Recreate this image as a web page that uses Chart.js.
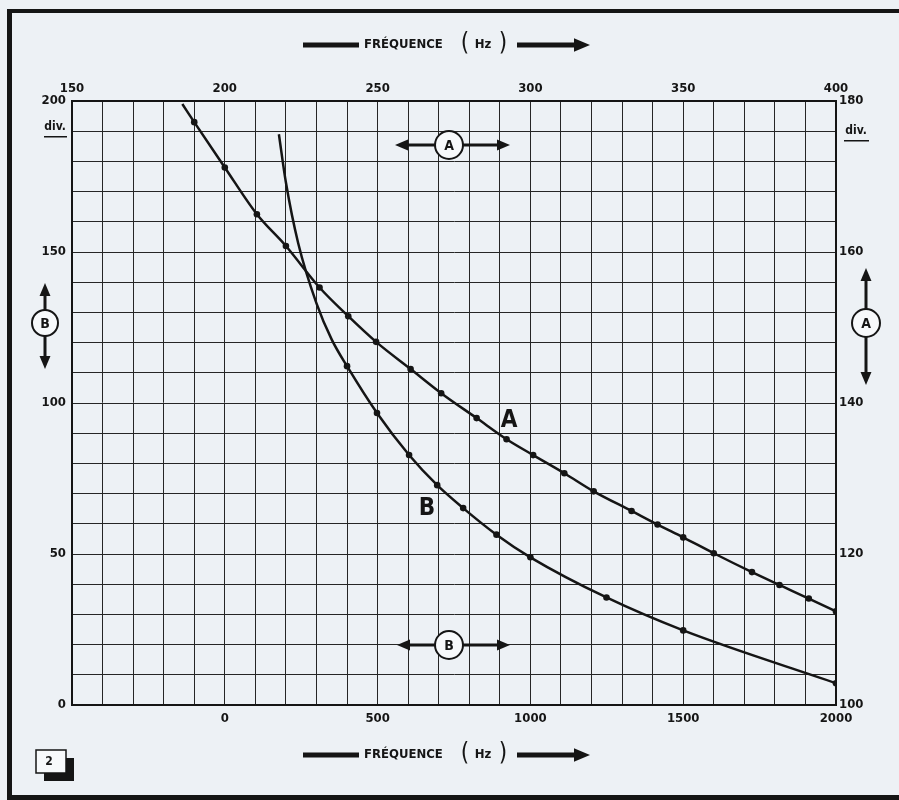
<!DOCTYPE html>
<html>
<head>
<meta charset="utf-8">
<script src="https://cdn.jsdelivr.net/npm/chart.js@4"></script>
<style>
  html, body { margin: 0; padding: 0; background: #edf1f5; }
  #wrap { width: 899px; height: 800px; }
</style>
</head>
<body>
<div id="wrap"><canvas id="freqChart" width="899" height="800"></canvas></div>
<script>
// Curve A (right scale, div.) - first point is where the drawn line starts, no dot
const freqA = [-139, -100, 0, 105, 200, 310, 404, 495, 608, 708, 824, 922, 1009, 1111, 1207, 1331, 1416, 1500, 1600, 1725, 1815, 1911, 2000];
const divA = [179.6, 177.2, 171.2, 165.0, 160.8, 155.3, 151.5, 148.1, 144.5, 141.3, 138.0, 135.2, 133.1, 130.7, 128.3, 125.7, 123.9, 122.2, 120.1, 117.6, 115.9, 114.1, 112.4];

// Curve B (left scale, div.) - dots only from 400 on
const freqB = [177, 200, 240, 300, 350, 400, 498, 603, 695, 780, 889, 1000, 1249, 1500, 2000];
const divB = [189, 173, 153, 133, 121, 112.2, 96.7, 82.8, 72.8, 65.2, 56.4, 48.9, 35.6, 24.7, 7.2];

// axis ranges and labels
const bottomRange = [-500, 2000];
const topRange = [150, 400];
const leftRange = [0, 200];
const rightRange = [100, 180];
const titleText = 'FRÉQUENCE';
const unitText = 'Hz';

const FONT = '"DejaVu Sans Condensed", "Liberation Sans Narrow", "DejaVu Sans", sans-serif';
const INK = '#151515';

function toPoints(xs, ys) {
    return xs.map((x, i) => ({ x: x, y: ys[i] }));
}

function arrowLine(ctx, x1, y1, x2, y2, w, head) {
    const a = Math.atan2(y2 - y1, x2 - x1);
    const bx = x2 - head * Math.cos(a), by = y2 - head * Math.sin(a);
    const hw = head * 0.42;
    ctx.lineWidth = w;
    ctx.beginPath();
    ctx.moveTo(x1, y1);
    ctx.lineTo(bx, by);
    ctx.stroke();
    ctx.beginPath();
    ctx.moveTo(x2, y2);
    ctx.lineTo(bx + hw * Math.sin(a), by - hw * Math.cos(a));
    ctx.lineTo(bx - hw * Math.sin(a), by + hw * Math.cos(a));
    ctx.closePath();
    ctx.fill();
}

function circleTag(ctx, x, y, r, label) {
    ctx.beginPath();
    ctx.arc(x, y, r, 0, Math.PI * 2);
    ctx.fillStyle = '#f7f9fb';
    ctx.fill();
    ctx.lineWidth = 2;
    ctx.strokeStyle = INK;
    ctx.stroke();
    ctx.fillStyle = INK;
    ctx.font = 'bold 14px ' + FONT;
    ctx.textAlign = 'center';
    ctx.textBaseline = 'middle';
    ctx.fillText(label, x, y + 1);
}

function freqTitle(ctx, y) {
    ctx.fillStyle = INK;
    ctx.strokeStyle = INK;
    ctx.fillRect(303, y - 2.5, 56, 5);
    ctx.font = 'bold 13px ' + FONT;
    ctx.textAlign = 'left';
    ctx.textBaseline = 'middle';
    ctx.fillText(titleText, 364, y, 80);
    ctx.font = '24px ' + FONT;
    ctx.textAlign = 'center';
    ctx.fillText('(', 465, y - 1);
    ctx.fillText(')', 503, y - 1);
    ctx.font = 'bold 13px ' + FONT;
    ctx.fillText(unitText, 483, y);
    arrowLine(ctx, 517, y, 590, y, 5, 16);
}

const decorPlugin = {
    id: 'decor',
    afterDraw(chart) {
        const ctx = chart.ctx;
        ctx.save();
        ctx.fillStyle = INK;
        ctx.strokeStyle = INK;

        // page frame
        ctx.fillRect(7, 9, 5, 791);
        ctx.fillRect(7, 9, 892, 4);
        ctx.fillRect(7, 795, 892, 5);

        freqTitle(ctx, 45);
        freqTitle(ctx, 755);

        // "div." units
        ctx.font = 'bold 12px ' + FONT;
        ctx.textAlign = 'center';
        ctx.textBaseline = 'middle';
        ctx.fillText('div.', 55, 127);
        ctx.fillText('div.', 856, 131);
        ctx.fillRect(44, 136, 23, 1.5);
        ctx.fillRect(844, 140, 25, 1.5);

        // scale keys
        ctx.fillStyle = INK;
        arrowLine(ctx, 436, 145, 395, 145, 3, 13);
        arrowLine(ctx, 462, 145, 510, 145, 3, 13);
        circleTag(ctx, 449, 145, 14, 'A');

        ctx.fillStyle = INK;
        arrowLine(ctx, 436, 645, 397, 645, 3, 13);
        arrowLine(ctx, 462, 645, 510, 645, 3, 13);
        circleTag(ctx, 449, 645, 14, 'B');

        ctx.fillStyle = INK;
        arrowLine(ctx, 45, 310, 45, 283, 3, 13);
        arrowLine(ctx, 45, 336, 45, 369, 3, 13);
        circleTag(ctx, 45, 323, 13, 'B');

        ctx.fillStyle = INK;
        arrowLine(ctx, 866, 309, 866, 268, 3, 13);
        arrowLine(ctx, 866, 337, 866, 385, 3, 13);
        circleTag(ctx, 866, 323, 14, 'A');

        // curve names
        ctx.fillStyle = INK;
        ctx.font = 'bold 24px ' + FONT;
        ctx.textAlign = 'center';
        ctx.textBaseline = 'middle';
        ctx.fillText('A', 509, 421);
        ctx.fillText('B', 427, 509);

        // figure number box
        ctx.fillRect(44, 758, 30, 23);
        ctx.fillStyle = '#f7f9fb';
        ctx.fillRect(36, 750, 30, 23);
        ctx.lineWidth = 1.5;
        ctx.strokeRect(36, 750, 30, 23);
        ctx.fillStyle = INK;
        ctx.font = 'bold 12px ' + FONT;
        ctx.fillText('2', 49, 762);
        ctx.restore();
    }
};

const tickFont = { family: FONT, size: 13, weight: 'bold' };
const gridOpts = { color: '#262626', lineWidth: 1, drawTicks: false };
const borderOpts = { display: true, color: INK, width: 2 };

const freqCtx = document.getElementById('freqChart').getContext('2d');
const freqChart = new Chart(freqCtx, {
    type: 'line',
    data: {
        datasets: [{
            label: 'A',
            data: toPoints(freqA, divA),
            yAxisID: 'y2',
            borderColor: INK,
            backgroundColor: INK,
            borderWidth: 2.5,
            cubicInterpolationMode: 'monotone',
            pointRadius: ctx => ctx.dataIndex === 0 ? 0 : 3.3,
            pointBorderWidth: 0
        }, {
            label: 'B',
            data: toPoints(freqB, divB),
            yAxisID: 'y',
            borderColor: INK,
            backgroundColor: INK,
            borderWidth: 2.5,
            cubicInterpolationMode: 'monotone',
            pointRadius: ctx => ctx.dataIndex < 5 ? 0 : 3.3,
            pointBorderWidth: 0
        }]
    },
    options: {
        responsive: false,
        animation: false,
        layout: { padding: 0 },
        plugins: {
            legend: { display: false },
            tooltip: { enabled: false }
        },
        scales: {
            x: {
                type: 'linear',
                position: 'bottom',
                min: bottomRange[0],
                max: bottomRange[1],
                grid: gridOpts,
                border: borderOpts,
                ticks: {
                    stepSize: 100,
                    autoSkip: false,
                    maxRotation: 0,
                    padding: 6,
                    color: INK,
                    font: tickFont,
                    callback: v => (v % 500 === 0 && v >= 0) ? String(v) : ''
                },
                afterFit: s => { s.height = 95; }
            },
            x2: {
                type: 'linear',
                position: 'top',
                min: topRange[0],
                max: topRange[1],
                grid: { display: false, drawTicks: false },
                border: borderOpts,
                ticks: {
                    stepSize: 50,
                    autoSkip: false,
                    maxRotation: 0,
                    padding: 5,
                    color: INK,
                    font: tickFont
                },
                afterFit: s => { s.height = 101; }
            },
            y: {
                type: 'linear',
                position: 'left',
                min: leftRange[0],
                max: leftRange[1],
                grid: gridOpts,
                border: borderOpts,
                ticks: {
                    stepSize: 10,
                    autoSkip: false,
                    padding: 6,
                    color: INK,
                    font: tickFont,
                    callback: v => v % 50 === 0 ? String(v) : ''
                },
                afterFit: s => { s.width = 72; }
            },
            y2: {
                type: 'linear',
                position: 'right',
                min: rightRange[0],
                max: rightRange[1],
                grid: { display: false, drawTicks: false },
                border: borderOpts,
                ticks: {
                    stepSize: 20,
                    autoSkip: false,
                    padding: 3,
                    color: INK,
                    font: tickFont
                },
                afterFit: s => { s.width = 63; }
            }
        }
    },
    plugins: [decorPlugin]
});
</script>
</body>
</html>
